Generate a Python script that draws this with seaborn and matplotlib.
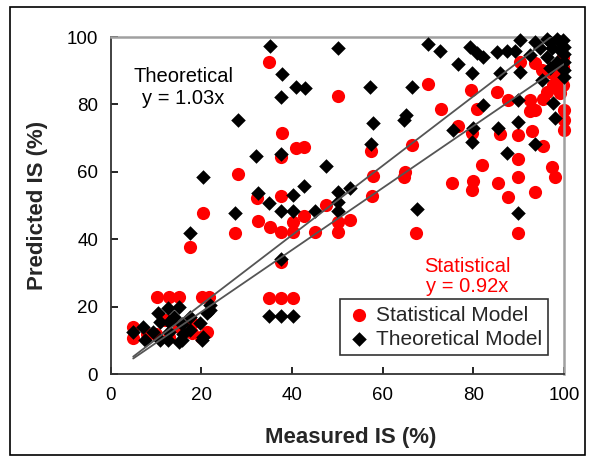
import matplotlib
matplotlib.use("Agg")
import matplotlib.pyplot as plt
from matplotlib.patches import Rectangle
import pandas as pd
import seaborn as sns

# Statistical model (red circles)
stat_x = [4.9, 4.9, 10.2, 12.8, 15.2, 20.1, 21.8, 17.9, 21.2, 10.0, 13.0, 15.0, 18.0, 20.0, 8.0, 12.0,
          17.5, 20.3, 27.5, 28.2, 32.4, 32.6, 35.0, 35.2, 35.0, 37.5, 40.2, 37.5, 37.5, 37.5, 37.5, 37.7,
          40.2, 40.2, 41.0, 42.7, 42.7, 45.1, 47.5, 50.2, 50.2, 50.2, 52.7, 57.4, 57.6, 57.8, 64.7, 64.9,
          66.5, 67.4, 69.9, 72.8, 75.2, 76.7, 79.4, 79.6, 79.6, 80.0, 80.7, 81.8, 85.2, 85.5, 85.9, 87.7,
          87.7, 89.9, 89.9, 89.9, 89.9, 90.3, 92.5, 92.5, 92.9, 93.6, 93.6, 93.6, 95.1, 95.3, 95.3, 96.2,
          97.3, 97.3, 97.6, 98.0, 99.1, 99.8, 99.8, 99.8, 100.0, 100.0, 100.0, 98.4]
stat_y = [13.9, 10.6, 22.8, 22.8, 22.8, 22.8, 22.8, 12.3, 12.6, 12.0, 11.0, 14.0, 15.0, 11.0, 12.0, 16.0,
          37.8, 47.9, 41.9, 59.3, 52.1, 45.5, 92.6, 43.5, 22.5, 22.5, 22.5, 33.3, 42.2, 52.8, 64.5, 71.6,
          45.2, 42.2, 67.2, 67.5, 46.9, 42.2, 50.1, 82.5, 45.2, 42.2, 45.7, 66.2, 52.8, 58.8, 58.4, 60.0,
          68.0, 41.9, 86.2, 78.6, 56.6, 73.6, 84.3, 71.6, 54.6, 57.4, 78.6, 62.0, 83.8, 56.6, 71.2, 81.3,
          52.6, 70.9, 63.7, 58.5, 41.9, 92.7, 81.3, 78.1, 72.2, 54.1, 78.3, 92.2, 90.2, 81.6, 67.7, 83.8,
          89.2, 61.5, 85.8, 58.4, 83.3, 91.2, 94.2, 85.8, 78.3, 75.4, 72.4, 87.7]

# Theoretical model (black diamonds)
theo_x = [4.9, 7.2, 7.6, 9.4, 10.5, 10.9, 10.9, 12.7, 13.0, 13.0, 12.7, 15.0, 15.7, 15.7, 15.0, 17.5,
          17.5, 19.7, 20.1, 20.3, 21.2, 21.9, 21.9, 14.0, 16.0,
          17.5, 20.3, 27.5, 28.2, 32.1, 32.6, 35.2, 35.0, 35.0, 37.5, 40.2, 37.5, 37.5, 37.5, 37.5, 37.7,
          40.3, 40.3, 41.0, 42.9, 42.7, 45.1, 47.5, 50.2, 50.2, 50.2, 50.2, 52.7, 57.2, 57.9, 57.4, 64.7,
          65.1, 66.5, 67.5, 69.9, 72.7, 75.5, 76.6, 79.3, 79.6, 79.6, 80.0, 80.7, 82.1, 82.2, 85.3, 85.5,
          85.9, 87.5, 87.5, 89.2, 89.9, 89.9, 89.9, 90.3, 90.3, 92.5, 93.6, 93.6, 94.7, 95.1, 96.2, 96.2,
          96.9, 97.3, 97.6, 98.0, 98.4, 98.4, 99.1, 99.8, 100.0, 100.0, 100.0, 100.0, 100.0, 99.0, 97.0]
theo_y = [12.6, 14.0, 10.1, 12.6, 18.0, 15.5, 10.1, 19.5, 15.5, 12.6, 10.1, 20.0, 14.9, 10.1, 9.6, 17.0,
          13.1, 15.0, 10.1, 11.1, 18.0, 20.5, 19.0, 17.0, 12.0,
          41.7, 58.4, 47.9, 75.4, 64.7, 53.8, 97.3, 50.6, 17.2, 17.2, 17.2, 34.0, 48.5, 65.2, 82.3, 89.0,
          53.1, 48.5, 85.3, 84.8, 55.8, 48.5, 61.7, 96.6, 54.1, 51.1, 48.5, 55.1, 85.3, 74.6, 68.2, 75.4,
          76.9, 85.3, 48.9, 97.9, 95.9, 72.4, 92.0, 96.9, 89.4, 68.9, 72.9, 95.2, 94.0, 79.8, 95.6, 72.9,
          89.4, 95.9, 65.7, 95.9, 81.3, 74.9, 47.9, 99.1, 89.7, 94.7, 98.6, 68.2, 96.6, 87.2, 99.5, 94.2,
          90.7, 96.6, 80.3, 75.9, 99.5, 92.7, 96.1, 99.1, 92.7, 90.2, 88.0, 97.0, 95.0, 98.5, 98.5]

fit_x = [5, 100]
theo_slope = 1.03
stat_slope = 0.92

stat = pd.DataFrame({"measured": stat_x, "predicted": stat_y})
theo = pd.DataFrame({"measured": theo_x, "predicted": theo_y})
fits = pd.DataFrame({"measured": fit_x * 2,
                     "predicted": [theo_slope * v for v in fit_x] + [stat_slope * v for v in fit_x],
                     "fit": ["theo"] * 2 + ["stat"] * 2})

sns.set_style("white")
plt.rcParams["font.family"] = ["Liberation Sans", "DejaVu Sans"]

fig = plt.figure(figsize=(5.92, 4.57), dpi=100)
ax = fig.add_axes([0.1867, 0.1816, 0.7661, 0.7374])

sns.scatterplot(data=stat, x="measured", y="predicted", ax=ax, color="#ff0000", marker="o",
                s=90, linewidth=0, label="Statistical Model", clip_on=False, zorder=2)
sns.scatterplot(data=theo, x="measured", y="predicted", ax=ax, color="black", marker="D",
                s=55, linewidth=0, label="Theoretical Model", clip_on=False, zorder=3)
sns.lineplot(data=fits, x="measured", y="predicted", units="fit", estimator=None, ax=ax,
             color="#555555", linewidth=1.3, zorder=4, legend=False)

ax.set_xlim(0, 100)
ax.set_ylim(0, 100)
ax.set_xticks([0, 20, 40, 60, 80, 100])
ax.set_yticks([0, 20, 40, 60, 80, 100])
ax.tick_params(axis="both", direction="in", length=5, width=1.2, labelsize=13.5, colors="black",
               left=True, bottom=True)
ax.tick_params(axis="y", pad=9)
ax.tick_params(axis="x", pad=9)

for side in ["left", "bottom"]:
    ax.spines[side].set_color("#333333")
    ax.spines[side].set_linewidth(1.3)
for side in ["top", "right"]:
    ax.spines[side].set_color("#a0a0a0")
    ax.spines[side].set_linewidth(1.8)

ax.set_xlabel("Measured IS (%)", fontsize=16, fontweight="bold", va="center")
ax.set_ylabel("Predicted IS (%)", fontsize=16, fontweight="bold", va="center")
ax.xaxis.set_label_coords(0.53, -0.187)
ax.yaxis.set_label_coords(-0.16, 0.5)

ax.text(16, 85, "Theoretical\ny = 1.03x", ha="center", va="center", fontsize=14.5,
        color="black", linespacing=1.15)
ax.text(78.6, 29, "Statistical\ny = 0.92x", ha="center", va="center", fontsize=14.5,
        color="#ff0000", linespacing=1.1)

leg = ax.legend(loc="lower right", bbox_to_anchor=(0.965, 0.056), borderaxespad=0,
                fontsize=15, frameon=True, fancybox=False, edgecolor="black",
                handletextpad=0.2, borderpad=0.3, labelspacing=0.25, handlelength=1.2)
leg.get_frame().set_linewidth(1.2)

fig.patches.append(Rectangle((10 / 592, 2 / 457), 575 / 592, 448 / 457, transform=fig.transFigure,
                             fill=False, edgecolor="black", linewidth=1.2))

fig.savefig("out.png", dpi=100)
